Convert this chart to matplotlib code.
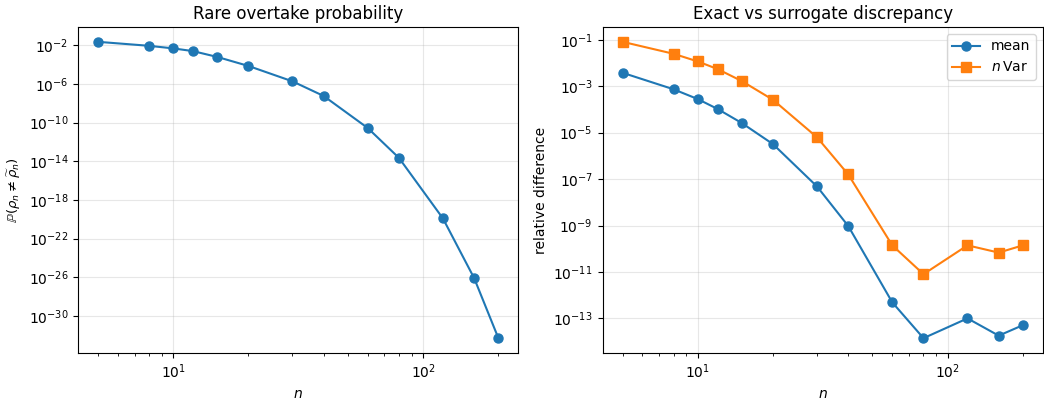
import numpy as np
import matplotlib.pyplot as plt
from matplotlib.ticker import LogLocator, NullLocator

n = [5, 8, 10, 12, 15, 20, 30, 40, 60, 80, 120, 160, 200]

# probability that exact and surrogate differ
p_overtake = [2.2e-2, 8.5e-3, 4.6e-3, 2.4e-3, 6.0e-4, 7.0e-5, 1.8e-6,
              5.5e-8, 2.7e-11, 2.2e-14, 1.2e-20, 8.0e-27, 5.0e-33]

# relative differences exact vs surrogate
rel_mean = [3.8e-3, 7.4e-4, 2.8e-4, 1.05e-4, 2.6e-5, 3.2e-6, 4.8e-8,
            9.5e-10, 4.9e-13, 1.4e-14, 1.0e-13, 1.8e-14, 5.1e-14]
rel_nvar = [8.2e-2, 2.5e-2, 1.17e-2, 5.5e-3, 1.67e-3, 2.6e-4, 6.3e-6,
            1.58e-7, 1.4e-10, 8.0e-12, 1.4e-10, 6.8e-11, 1.4e-10]

fig, (ax1, ax2) = plt.subplots(1, 2, figsize=(10.44, 4), dpi=100)
fig.subplots_adjust(left=0.0747, right=0.999, bottom=0.1175, top=0.9325,
                    wspace=0.191)

ax1.loglog(n, p_overtake, 'o-', color='tab:blue', markersize=6.5, linewidth=1.5)
ax1.set_title('Rare overtake probability', fontsize=12)
ax1.set_xlabel('$n$')
ax1.set_ylabel(r'$\mathbb{P}(\rho_n \neq \widetilde{\rho}_n)$', fontsize=9.5)
ax1.set_yticks([1e-2, 1e-6, 1e-10, 1e-14, 1e-18, 1e-22, 1e-26, 1e-30])
ax1.yaxis.set_minor_locator(NullLocator())
ax1.xaxis.set_minor_locator(LogLocator(base=10, subs=np.arange(2, 10)))

ax2.loglog(n, rel_mean, 'o-', color='tab:blue', markersize=6.5, linewidth=1.5, label='mean')
ax2.loglog(n, rel_nvar, 's-', color='tab:orange', markersize=6.5, linewidth=1.5, label=r'$n\,$Var')
ax2.set_title('Exact vs surrogate discrepancy', fontsize=12)
ax2.set_xlabel('$n$')
ax2.set_ylabel('relative difference')
ax2.set_yticks([1e-1, 1e-3, 1e-5, 1e-7, 1e-9, 1e-11, 1e-13])
ax2.yaxis.set_minor_locator(NullLocator())
ax2.legend(loc='upper right')

for ax in (ax1, ax2):
    ax.grid(True, which='major', alpha=0.3)

fig.savefig('out.png', dpi=100)
